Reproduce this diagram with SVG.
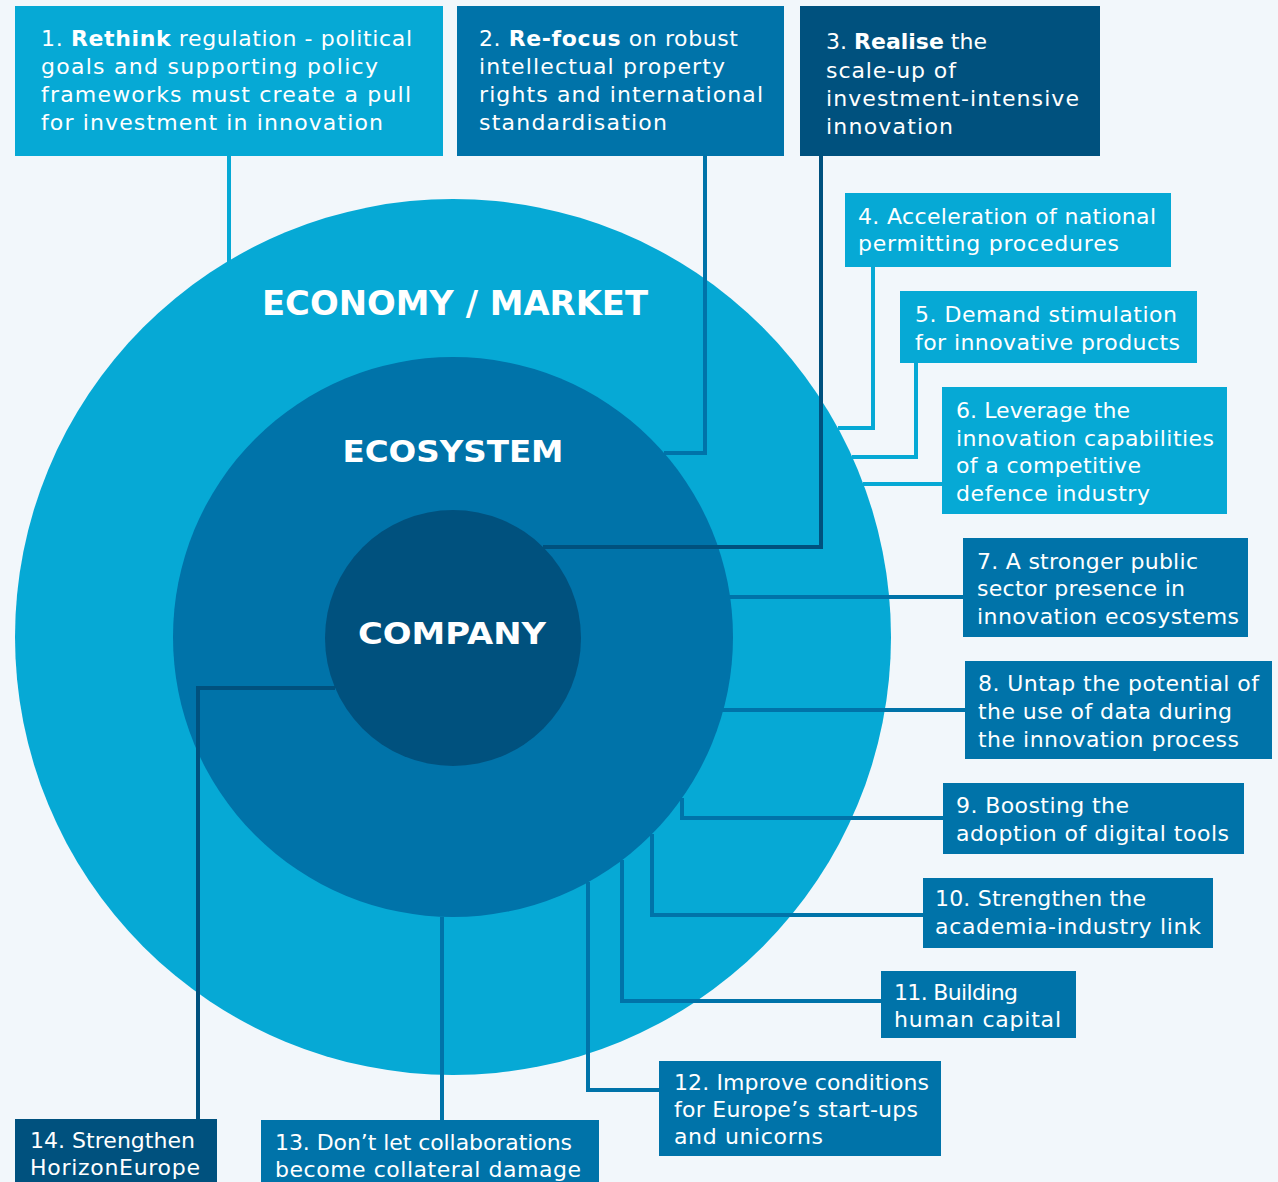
<svg xmlns="http://www.w3.org/2000/svg" width="1278" height="1182" viewBox="0 0 1278 1182">
<style>
.bg{fill:#f2f7fb}
.c1{fill:#06a9d5}
.c2{fill:#0073a9}
.c3{fill:#00517e}
text{font-family:"DejaVu Sans",sans-serif;fill:#ffffff}
.t{font-size:22px}
.b{font-weight:bold}
.h{font-weight:bold;text-anchor:middle}
.l{fill:none;stroke-width:4}
.l1{stroke:#06a9d5}
.l2{stroke:#0073a9}
.l3{stroke:#00517e}
</style>
<rect class="bg" x="0" y="0" width="1278" height="1182"/>
<g id="circles">
<circle class="c1" cx="453" cy="637" r="438"/>
<circle class="c2" cx="453" cy="637" r="280"/>
<circle class="c3" cx="453" cy="638" r="128"/>
<text class="h" x="455" y="315" font-size="34" textLength="386" lengthAdjust="spacingAndGlyphs">ECONOMY / MARKET</text>
<text class="h" x="453" y="462" font-size="31" textLength="221" lengthAdjust="spacingAndGlyphs">ECOSYSTEM</text>
<text class="h" x="452" y="644" font-size="31" textLength="188" lengthAdjust="spacingAndGlyphs">COMPANY</text>
</g>
<g id="connectors">
<path class="l l1" d="M229,156 V262"/>
<path class="l l2" d="M705,156 V453 H664"/>
<path class="l l3" d="M821,156 V547 H543"/>
<path class="l l1" d="M873,267 V428 H838"/>
<path class="l l1" d="M916,363 V457 H852"/>
<path class="l l1" d="M942,484 H863"/>
<path class="l l2" d="M963,597 H729"/>
<path class="l l2" d="M965,710 H722"/>
<path class="l l2" d="M943,818 H682 V798"/>
<path class="l l2" d="M924,915 H652 V834"/>
<path class="l l2" d="M881,1001 H622 V860"/>
<path class="l l2" d="M659,1090 H588 V882"/>
<path class="l l2" d="M442,1120 V917"/>
<path class="l l3" d="M198,1119 V688 H335"/>
</g>
<g id="n1">
<rect class="c1" x="15" y="6" width="428" height="150"/>
<text class="t" x="41" y="46" textLength="371">1. <tspan class="b">Rethink</tspan> regulation - political</text>
<text class="t" x="41" y="74" textLength="337">goals and supporting policy</text>
<text class="t" x="41" y="102" textLength="370">frameworks must create a pull</text>
<text class="t" x="41" y="130" textLength="342">for investment in innovation</text>
</g>
<g id="n2">
<rect class="c2" x="457" y="6" width="327" height="150"/>
<text class="t" x="479" y="46" textLength="259">2. <tspan class="b">Re-focus</tspan> on robust</text>
<text class="t" x="479" y="74" textLength="246">intellectual property</text>
<text class="t" x="479" y="102" textLength="284">rights and international</text>
<text class="t" x="479" y="130" textLength="188">standardisation</text>
</g>
<g id="n3">
<rect class="c3" x="800" y="6" width="300" height="150"/>
<text class="t" x="826" y="49" textLength="161">3. <tspan class="b">Realise</tspan> the</text>
<text class="t" x="826" y="78" textLength="130">scale-up of</text>
<text class="t" x="826" y="106" textLength="253">investment-intensive</text>
<text class="t" x="826" y="134" textLength="127">innovation</text>
</g>
<g id="n4">
<rect class="c1" x="845" y="193" width="326" height="74"/>
<text class="t" x="858" y="224" textLength="298">4. Acceleration of national</text>
<text class="t" x="858" y="251" textLength="261">permitting procedures</text>
</g>
<g id="n5">
<rect class="c1" x="900" y="291" width="297" height="72"/>
<text class="t" x="915" y="322" textLength="262">5. Demand stimulation</text>
<text class="t" x="915" y="350" textLength="265">for innovative products</text>
</g>
<g id="n6">
<rect class="c1" x="942" y="387" width="285" height="127"/>
<text class="t" x="956" y="418" textLength="174">6. Leverage the</text>
<text class="t" x="956" y="446" textLength="258">innovation capabilities</text>
<text class="t" x="956" y="473" textLength="185">of a competitive</text>
<text class="t" x="956" y="501" textLength="194">defence industry</text>
</g>
<g id="n7">
<rect class="c2" x="963" y="538" width="285" height="99"/>
<text class="t" x="977" y="569" textLength="221">7. A stronger public</text>
<text class="t" x="977" y="596" textLength="208">sector presence in</text>
<text class="t" x="977" y="624" textLength="262">innovation ecosystems</text>
</g>
<g id="n8">
<rect class="c2" x="965" y="661" width="307" height="98"/>
<text class="t" x="978" y="691" textLength="281">8. Untap the potential of</text>
<text class="t" x="978" y="719" textLength="254">the use of data during</text>
<text class="t" x="978" y="747" textLength="261">the innovation process</text>
</g>
<g id="n9">
<rect class="c2" x="943" y="783" width="301" height="71"/>
<text class="t" x="956" y="813" textLength="173">9. Boosting the</text>
<text class="t" x="956" y="841" textLength="273">adoption of digital tools</text>
</g>
<g id="n10">
<rect class="c2" x="923" y="878" width="290" height="70"/>
<text class="t" x="935" y="906" textLength="211">10. Strengthen the</text>
<text class="t" x="935" y="934" textLength="266">academia-industry link</text>
</g>
<g id="n11">
<rect class="c2" x="881" y="971" width="195" height="67"/>
<text class="t" x="894" y="1000" textLength="124">11. Building</text>
<text class="t" x="894" y="1027" textLength="167">human capital</text>
</g>
<g id="n12">
<rect class="c2" x="659" y="1061" width="282" height="95"/>
<text class="t" x="674" y="1090" textLength="255">12. Improve conditions</text>
<text class="t" x="674" y="1117" textLength="244">for Europe’s start-ups</text>
<text class="t" x="674" y="1144" textLength="149">and unicorns</text>
</g>
<g id="n13">
<rect class="c2" x="261" y="1120" width="338" height="62"/>
<text class="t" x="275" y="1150" textLength="297">13. Don’t let collaborations</text>
<text class="t" x="275" y="1177" textLength="306">become collateral damage</text>
</g>
<g id="n14">
<rect class="c3" x="15" y="1119" width="202" height="63"/>
<text class="t" x="30" y="1148" textLength="165">14. Strengthen</text>
<text class="t" x="30" y="1175" textLength="170">HorizonEurope</text>
</g>
</svg>
